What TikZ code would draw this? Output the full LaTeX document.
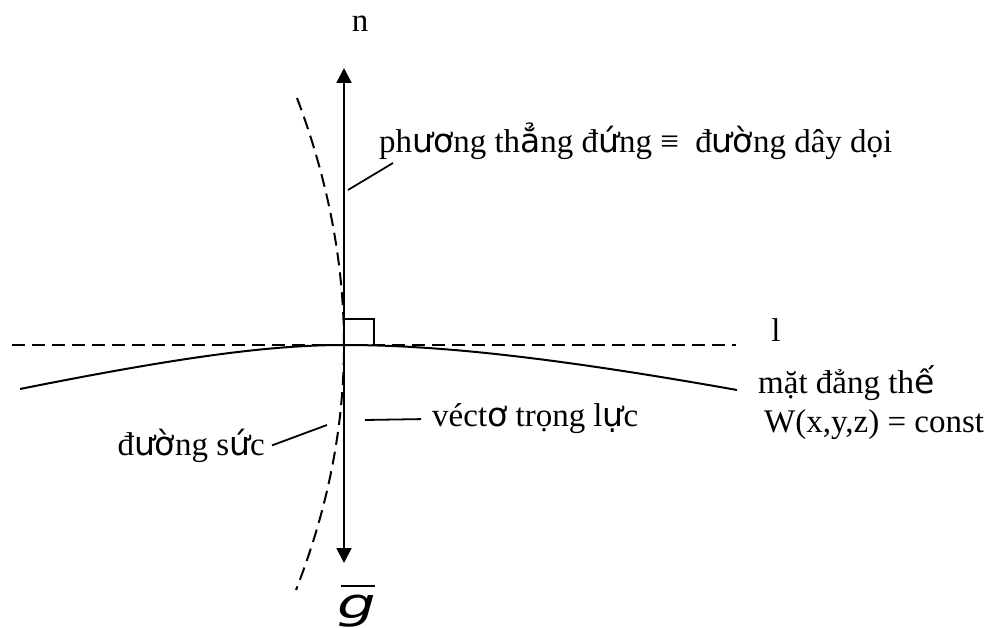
\documentclass[tikz,border=0pt]{standalone}
\usepackage{fontspec}
\setmainfont{Liberation Serif}
\newfontfamily\dv{DejaVu Sans}[ItalicFont={DejaVu Sans Oblique}]
\usetikzlibrary{arrows.meta}

\begin{document}
\begin{tikzpicture}[
  x=1pt, y=-1pt,
  font=\fontsize{33}{39}\selectfont,
  chu/.style={inner sep=0pt},
  net/.style={line width=2pt},
  netdut/.style={line width=2pt, dash pattern=on 13pt off 7pt},
  muiten/.style={line width=2pt,
    {Triangle[length=15pt,width=15pt]}-{Triangle[length=15pt,width=15pt]}},
  chi/.style={line width=1.8pt},
  goc/.style={line width=1.6pt}
]
  \useasboundingbox (0,0) rectangle (994,628);

  % --- diem goc, dau mui ten
  \coordinate (O) at (344,345);
  \coordinate (tren) at (344,68);
  \coordinate (duoi) at (344,563);

  % --- tiep tuyen l
  \coordinate (lTrai) at (12,345);
  \coordinate (lPhai) at (736,345);
  \draw[netdut] (lTrai) -- (lPhai);
  \node[chu, anchor=base] (l) at (776,342) {l};

  % --- mat dang the
  \coordinate (mTrai) at (20,389);
  \coordinate (mPhai) at (737,390);
  \draw[net] (mTrai) .. controls (180,357) and (270,345) .. (O)
             .. controls (430,345) and (540,355) .. (mPhai);
  \node[chu, anchor=base west, align=left] (matdt) at (758,432)
        {mặt đẳng th{\dv ế}\\\hspace*{6pt}W(x,y,z) = const};

  % --- duong suc
  \coordinate (sTren) at (297,98);
  \coordinate (sDuoi) at (296,590);
  \draw[netdut] (sTren) .. controls (328,180) and (344,263) .. (O)
                .. controls (344,427) and (328,508) .. (sDuoi);

  % --- vecto n, g
  \draw[muiten] (duoi) -- (tren);
  \node[chu, anchor=base] (n) at (360,32) {n};
  \node[chu, anchor=base, xscale=1.45, font=\fontsize{42}{50}\selectfont\dv\itshape] (g) at (357,618) {g};
  \draw[line width=2pt, shorten >=2pt] ([yshift=8pt,xshift=4pt]g.north west) -- ([yshift=8pt]g.north east);

  % --- goc vuong
  \draw[goc] (O) ++(0,-26) -| ++(30,26);

  % --- chu thich
  \node[chu, anchor=base west] (phuong) at (379,153)
        {ph{\dv ươ}ng th{\dv ẳ}ng đ{\dv ứ}ng ≡\ \ đ{\dv ườ}ng dây dọi};
  \coordinate (p1) at (348,190);
  \coordinate (p2) at (393,163);
  \draw[chi] (p1) -- (p2);

  \node[chu, anchor=base west] (vecto) at (432,427) {véct{\dv ơ} trọng l{\dv ự}c};
  \coordinate (v1) at (365,420);
  \draw[chi] (v1) -- ([xshift=-11pt]vecto.west);

  \node[chu, anchor=base east] (duongsuc) at (265,455) {đ{\dv ườ}ng s{\dv ứ}c};
  \coordinate (s1) at (327,425);
  \draw[chi] ([xshift=7pt]duongsuc.east) -- (s1);
\end{tikzpicture}
\end{document}
